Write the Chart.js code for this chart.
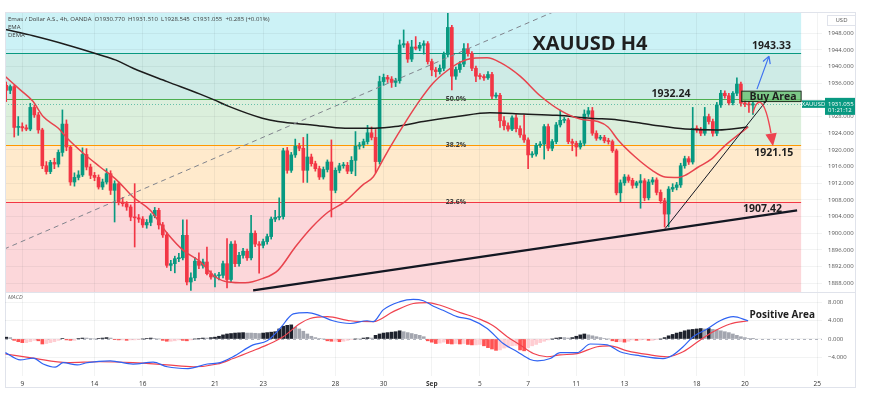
<!DOCTYPE html>
<html>
<head>
<meta charset="utf-8">
<title>XAUUSD H4</title>
<script src="https://cdn.jsdelivr.net/npm/chart.js@4.4.1/dist/chart.umd.min.js"></script>
<style>
body { margin: 0; background: #fff; }
#wrap { position: relative; width: 870px; height: 405px; overflow: hidden; font-family: 'Open Sans', sans-serif; }
#wrap canvas { position: absolute; left: 0; }
#priceChart { z-index: 1; }
#macdChart { z-index: 10; }
#frame { position: absolute; z-index: 3; left: 5px; top: 12px; width: 849px; height: 374px; border: 1px solid #e0e3eb; pointer-events: none; }
#divider { position: absolute; z-index: 3; left: 5px; top: 292px; width: 851px; height: 1px; background: #e0e3eb; }
.hdr { position: absolute; z-index: 3; left: 8px; font-size: 6px; line-height: 8px; color: #3b3b3b; white-space: pre; }
</style>
</head>
<body>
<div id="wrap">
  <canvas id="priceChart" width="870" height="293" style="top:0"></canvas>
  <canvas id="macdChart" width="870" height="112" style="top:293px"></canvas>
  <div id="frame"></div>
  <div id="divider"></div>
  <div class="hdr" style="top:15px">Emas / Dollar A.S., 4h, OANDA  O1930.770  H1931.510  L1928.545  C1931.055  +0.285 (+0.01%)</div>
  <div class="hdr" style="top:23px">EMA</div>
  <div class="hdr" style="top:31px">DEMA</div>
</div>
<script>
// x = candle number (4h candles, 6 a day), candle 0 = last ones of 8 Aug
const dayTicks  = [4, 22, 34, 52, 64, 82, 94, 106, 118, 130, 142, 154, 172, 184, 202];
const dayLabels = ['9', '14', '16', '21', '23', '28', '30', 'Sep', '5', '7', '11', '13', '18', '20', '25'];
const priceTicks = [1888, 1892, 1896, 1900, 1904, 1908, 1912, 1916, 1920, 1924, 1928, 1932, 1936, 1940, 1944, 1948];
const macdTicks = [-4, 0, 4, 8];

const opens = [
    1935.5, 1934.3, 1935.2, 1925.4, 1925.6, 1925.3, 1925.0, 1930.2, 1928.4, 1924.8,
    1916.2, 1914.8, 1917.0, 1916.6, 1919.4, 1926.2, 1920.7, 1912.3, 1913.4, 1914.0,
    1918.9, 1915.9, 1913.9, 1913.4, 1911.1, 1912.3, 1914.3, 1910.3, 1911.9, 1907.5,
    1907.1, 1906.3, 1903.9, 1903.7, 1903.4, 1902.0, 1902.6, 1904.2, 1905.5, 1902.0,
    1899.6, 1892.3, 1892.7, 1893.9, 1894.1, 1899.5, 1888.3, 1889.3, 1893.3, 1892.3,
    1893.1, 1890.3, 1889.5, 1889.8, 1889.9, 1892.7, 1888.9, 1897.4, 1892.7, 1894.7,
    1895.7, 1894.1, 1900.0, 1897.4, 1897.1, 1898.0, 1899.2, 1903.4, 1903.8, 1904.0,
    1919.8, 1915.1, 1918.8, 1920.9, 1920.4, 1915.1, 1918.3, 1916.7, 1915.5, 1913.5,
    1915.3, 1917.1, 1910.3, 1915.1, 1916.2, 1916.3, 1914.9, 1917.5, 1920.9, 1921.2,
    1922.0, 1924.1, 1923.0, 1917.2, 1936.4, 1937.4, 1937.0, 1936.2, 1936.6, 1945.2,
    1945.5, 1941.8, 1944.7, 1944.4, 1945.1, 1945.5, 1941.2, 1939.2, 1938.8, 1939.6,
    1942.9, 1949.4, 1937.7, 1939.3, 1940.6, 1944.3, 1943.1, 1939.6, 1937.7, 1937.6,
    1937.3, 1938.1, 1932.9, 1933.1, 1927.0, 1925.8, 1925.0, 1927.7, 1925.1, 1923.6,
    1922.4, 1918.8, 1919.0, 1921.1, 1921.4, 1925.6, 1920.4, 1922.0, 1926.0, 1927.1,
    1927.2, 1922.0, 1921.6, 1920.7, 1921.6, 1928.6, 1929.4, 1924.0, 1922.8, 1923.0,
    1922.2, 1922.0, 1919.8, 1909.7, 1912.1, 1913.5, 1912.7, 1911.5, 1912.1, 1912.6,
    1908.5, 1912.3, 1912.8, 1909.8, 1907.8, 1904.6, 1910.6, 1911.0, 1911.6, 1916.2,
    1917.9, 1917.1, 1925.2, 1924.8, 1924.0, 1928.0, 1926.8, 1924.0, 1930.8, 1933.6,
    1933.0, 1931.3, 1933.6, 1935.8, 1931.2, 1931.0, 1930.77
];
const highs = [
    1936.3, 1935.6, 1935.6, 1928.0, 1926.5, 1926.0, 1931.2, 1930.8, 1929.0, 1925.2,
    1917.2, 1917.5, 1918.0, 1920.0, 1929.6, 1927.2, 1921.0, 1914.5, 1915.0, 1920.5,
    1920.3, 1916.6, 1914.6, 1914.0, 1913.0, 1915.5, 1915.0, 1912.6, 1912.3, 1908.6,
    1907.6, 1906.8, 1911.9, 1904.5, 1904.0, 1903.3, 1904.7, 1906.2, 1906.0, 1902.6,
    1900.2, 1893.5, 1894.5, 1895.2, 1903.2, 1903.2, 1890.5, 1894.2, 1895.3, 1893.8,
    1896.7, 1891.0, 1890.3, 1890.6, 1893.3, 1898.7, 1898.0, 1898.2, 1895.4, 1896.4,
    1896.2, 1904.3, 1900.6, 1898.0, 1898.6, 1899.8, 1903.9, 1905.5, 1908.5, 1920.4,
    1920.6, 1919.4, 1922.6, 1921.6, 1923.0, 1923.8, 1919.0, 1917.3, 1916.1, 1915.9,
    1917.6, 1922.4, 1915.7, 1916.8, 1917.0, 1917.0, 1918.4, 1924.4, 1921.8, 1922.6,
    1925.9, 1925.5, 1924.9, 1937.7, 1938.2, 1937.9, 1937.6, 1937.2, 1946.4, 1948.8,
    1946.0, 1946.3, 1947.2, 1945.8, 1946.2, 1946.0, 1941.8, 1939.8, 1940.4, 1943.5,
    1952.9, 1949.9, 1939.9, 1941.2, 1945.5, 1945.5, 1943.6, 1940.1, 1938.3, 1938.1,
    1938.8, 1938.6, 1933.7, 1933.6, 1928.0, 1926.5, 1928.2, 1928.5, 1925.8, 1928.4,
    1922.9, 1919.6, 1921.6, 1922.0, 1926.1, 1926.2, 1922.5, 1926.6, 1929.6, 1927.8,
    1927.6, 1922.6, 1922.1, 1922.2, 1929.6, 1930.2, 1930.2, 1924.6, 1923.5, 1923.5,
    1922.8, 1922.4, 1920.2, 1912.8, 1914.1, 1914.0, 1913.2, 1912.5, 1914.1, 1913.1,
    1912.9, 1913.4, 1913.3, 1910.4, 1908.4, 1911.2, 1911.9, 1912.2, 1916.8, 1918.5,
    1918.4, 1930.2, 1925.8, 1925.4, 1930.2, 1928.6, 1927.4, 1931.4, 1934.3, 1934.2,
    1933.6, 1934.0, 1937.3, 1936.3, 1931.9, 1931.6, 1931.51
];
const lows = [
    1931.6, 1933.5, 1923.1, 1923.5, 1924.5, 1924.6, 1924.6, 1927.8, 1924.0, 1915.5,
    1914.2, 1914.3, 1915.5, 1915.9, 1918.5, 1919.8, 1911.5, 1911.3, 1912.8, 1913.6,
    1915.2, 1913.1, 1912.6, 1910.6, 1910.5, 1911.8, 1909.3, 1902.7, 1906.8, 1906.5,
    1905.5, 1903.0, 1896.7, 1902.6, 1901.4, 1901.2, 1901.8, 1903.7, 1901.0, 1899.0,
    1891.8, 1891.0, 1890.5, 1893.2, 1893.6, 1887.6, 1886.3, 1888.6, 1891.5, 1891.6,
    1890.0, 1889.0, 1887.1, 1888.8, 1889.3, 1886.9, 1888.2, 1892.0, 1892.1, 1894.0,
    1893.5, 1893.6, 1896.8, 1890.4, 1896.5, 1897.4, 1898.6, 1902.8, 1903.2, 1903.4,
    1914.4, 1914.6, 1918.2, 1919.8, 1912.2, 1912.2, 1916.1, 1914.9, 1912.9, 1913.0,
    1914.7, 1903.9, 1909.7, 1914.5, 1915.6, 1914.3, 1914.3, 1913.8, 1920.2, 1920.5,
    1921.4, 1922.4, 1914.5, 1916.6, 1935.5, 1936.2, 1935.0, 1935.2, 1936.0, 1944.6,
    1941.0, 1941.2, 1944.0, 1943.8, 1943.0, 1940.6, 1937.8, 1937.5, 1938.2, 1939.0,
    1942.3, 1934.4, 1936.9, 1938.6, 1940.0, 1942.5, 1939.0, 1936.4, 1937.0, 1936.7,
    1936.9, 1932.3, 1932.4, 1925.4, 1924.8, 1924.5, 1924.6, 1924.3, 1923.0, 1921.8,
    1915.5, 1918.2, 1918.5, 1920.6, 1917.8, 1919.8, 1919.8, 1921.5, 1925.5, 1926.5,
    1921.5, 1919.8, 1918.5, 1920.2, 1921.0, 1928.0, 1923.5, 1922.3, 1922.4, 1921.7,
    1921.4, 1919.4, 1909.2, 1907.6, 1911.5, 1912.2, 1910.8, 1910.9, 1906.0, 1907.8,
    1908.0, 1911.7, 1909.2, 1907.2, 1901.5, 1901.5, 1910.0, 1910.4, 1911.0, 1915.6,
    1916.5, 1916.6, 1924.2, 1923.4, 1923.5, 1926.2, 1923.3, 1923.4, 1930.2, 1932.4,
    1930.8, 1930.8, 1933.0, 1930.5, 1930.4, 1929.0, 1928.545
];
const closes = [
    1934.3, 1935.2, 1925.4, 1925.6, 1925.3, 1925.0, 1930.2, 1928.4, 1924.8, 1916.2,
    1914.8, 1917.0, 1916.6, 1919.4, 1926.2, 1920.7, 1912.3, 1913.4, 1914.0, 1918.9,
    1915.9, 1913.9, 1913.4, 1911.1, 1912.3, 1914.3, 1910.3, 1911.9, 1907.5, 1907.1,
    1906.3, 1903.9, 1903.7, 1903.4, 1902.0, 1902.6, 1904.2, 1905.5, 1902.0, 1899.6,
    1892.3, 1892.7, 1893.9, 1894.1, 1899.5, 1888.3, 1889.3, 1893.3, 1892.3, 1893.1,
    1890.3, 1889.5, 1889.8, 1889.9, 1892.7, 1888.9, 1897.4, 1892.7, 1894.7, 1895.7,
    1894.1, 1900.0, 1897.4, 1897.1, 1898.0, 1899.2, 1903.4, 1903.8, 1904.0, 1919.8,
    1915.1, 1918.8, 1920.9, 1920.4, 1915.1, 1918.3, 1916.7, 1915.5, 1913.5, 1915.3,
    1917.1, 1910.3, 1915.1, 1916.2, 1916.3, 1914.9, 1917.5, 1920.9, 1921.2, 1922.0,
    1924.1, 1923.0, 1917.2, 1936.4, 1937.4, 1937.0, 1936.2, 1936.6, 1945.2, 1945.5,
    1941.8, 1944.7, 1944.4, 1945.1, 1945.5, 1941.2, 1939.2, 1938.8, 1939.6, 1942.9,
    1949.4, 1937.7, 1939.3, 1940.6, 1944.3, 1943.1, 1939.6, 1937.7, 1937.6, 1937.3,
    1938.1, 1932.9, 1933.1, 1927.0, 1925.8, 1925.0, 1927.7, 1925.1, 1923.6, 1922.4,
    1918.8, 1919.0, 1921.1, 1921.4, 1925.6, 1920.4, 1922.0, 1926.0, 1927.1, 1927.2,
    1922.0, 1921.6, 1920.7, 1921.6, 1928.6, 1929.4, 1924.0, 1922.8, 1923.0, 1922.2,
    1922.0, 1919.8, 1909.7, 1912.1, 1913.5, 1912.7, 1911.5, 1912.1, 1912.6, 1908.5,
    1912.3, 1912.8, 1909.8, 1907.8, 1904.6, 1910.6, 1911.0, 1911.6, 1916.2, 1917.9,
    1917.1, 1925.2, 1924.8, 1924.0, 1928.0, 1926.8, 1924.0, 1930.8, 1933.6, 1933.0,
    1931.3, 1933.6, 1935.8, 1931.2, 1931.0, 1930.8, 1931.055
];

const macdHist = [
    0.4, 0.3, -0.3, -0.6, -0.8, -0.8, -0.6, -0.3, -0.4, -1.1,
    -1.0, -0.8, -0.6, -0.3, 0.1, -0.2, -0.3, -0.3, 0.1, 0.2,
    0.2, 0.1, 0.0, 0.1, 0.2, 0.3, 0.2, -0.1, -0.2, -0.2,
    -0.3, -0.2, -0.2, -0.1, 0.0, 0.1, 0.2, 0.1, 0.0, -0.3,
    -0.5, -0.5, -0.4, -0.2, -0.3, -0.4, -0.2, 0.0, 0.1, 0.2,
    0.2, 0.3, 0.4, 0.6, 0.9, 1.1, 1.2, 1.3, 1.35, 1.4,
    1.3, 1.3, 1.25, 1.2, 1.3, 1.4, 1.5, 1.6, 2.2, 2.8,
    3.0, 3.1, 2.6, 2.2, 1.7, 1.1, 0.6, 0.3, 0.1, 0.0,
    -0.4, -0.5, -0.5, -0.6, -0.5, -0.3, -0.1, 0.0, 0.0, 0.2,
    0.3, 0.2, 0.8, 1.1, 1.3, 1.4, 1.5, 1.6, 1.8, 1.6,
    1.4, 1.2, 1.0, 0.8, 0.5, -0.4, -0.7, -1.0, -0.9, -0.7,
    -1.0, -1.1, -1.0, -1.1, -1.0, -1.2, -1.3, -1.3, -1.2, -1.5,
    -1.9, -2.2, -2.5, -2.4, -2.0, -1.8, -1.5, -1.4, -2.4, -2.6,
    -1.9, -1.5, -1.2, -0.8, -0.5, -0.2, 0.0, 0.2, 0.3, 0.3,
    0.2, 0.3, 0.6, 0.9, 1.1, 0.9, 0.7, 0.5, 0.3, 0.1,
    0.0, -0.4, -0.6, -0.6, -0.7, -0.5, -0.2, -0.3, -0.2, -0.1,
    -0.3, -0.3, -0.1, 0.0, 0.3, 0.7, 1.0, 1.3, 1.5, 1.8,
    2.0, 2.1, 2.2, 2.3, 2.2, 2.3, 2.1, 2.0, 1.8, 1.6,
    1.4, 1.1, 0.8, 0.5, 0.3, 0.1, 0.05
];

// [candle, value]
const emaRed = [
    [-0.2, 1937.6], [3.5, 1934.4], [6.7, 1931.6], [9.2, 1928.0], [13.0, 1925.2], [15.2, 1922.8],
    [19.2, 1919.2], [23.4, 1915.9], [27.6, 1912.7], [31.6, 1908.7], [35.9, 1905.5], [40.1, 1900.0],
    [44.1, 1895.9], [48.3, 1893.2], [52.1, 1889.5], [55.3, 1888.3], [59.5, 1888.1], [63.8, 1889.1],
    [67.7, 1891.1], [72.0, 1896.7], [76.2, 1901.5], [80.2, 1905.1], [84.4, 1907.6], [88.7, 1911.5],
    [91.4, 1913.5], [93.6, 1917.2], [95.6, 1920.6], [99.8, 1927.2], [103.1, 1932.0], [106.3, 1936.0],
    [109.8, 1939.0], [113.0, 1941.0], [116.3, 1942.0], [119.8, 1942.1], [123.0, 1941.0], [128.0, 1937.7],
    [133.0, 1933.0], [138.0, 1929.5], [143.0, 1927.4], [147.4, 1926.8], [149.9, 1925.5], [152.4, 1922.4],
    [156.7, 1918.3], [160.9, 1915.1], [164.1, 1913.5], [167.4, 1913.4], [169.1, 1913.9], [172.4, 1915.9],
    [175.8, 1917.9], [179.1, 1921.1], [182.3, 1923.6], [184.8, 1925.5]
];
const emaBlack = [
    [-0.2, 1948.9], [6.7, 1947.4], [15.2, 1945.2], [23.4, 1942.8], [27.2, 1941.6], [31.6, 1939.6],
    [40.1, 1936.4], [48.3, 1933.4], [51.8, 1932.0], [55.3, 1930.5], [63.8, 1927.6], [67.7, 1926.8],
    [76.2, 1926.0], [84.4, 1925.2], [91.9, 1925.2], [96.9, 1925.6], [103.9, 1926.8], [112.3, 1928.0],
    [120.5, 1928.9], [128.8, 1928.6], [137.2, 1928.3], [145.5, 1927.6], [152.4, 1927.2], [160.9, 1926.0],
    [169.1, 1925.0], [177.3, 1924.8], [184.8, 1925.5]
];
const macdLine = [
    [-0.2, -3.0], [3.5, -4.6], [6.7, -4.2], [9.2, -5.5], [12.2, -6.2], [14.2, -5.2], [17.7, -5.7],
    [20.2, -5.2], [25.9, -4.8], [31.6, -5.5], [36.6, -5.1], [40.1, -6.1], [45.3, -6.5], [50.1, -5.5],
    [53.3, -5.2], [56.5, -3.9], [61.5, -1.3], [65.0, -0.4], [68.2, 2.3], [71.5, 5.5], [75.0, 5.8],
    [78.2, 5.1], [81.4, 4.0], [85.7, 3.4], [89.9, 4.0], [91.4, 3.8], [93.9, 6.4], [98.1, 8.2],
    [101.4, 8.7], [103.9, 8.4], [106.4, 7.2], [108.8, 6.3], [112.3, 4.9], [115.6, 4.3], [119.8, 2.3],
    [123.8, -1.0], [127.3, -2.8], [130.5, -4.5], [132.3, -4.8], [135.5, -4.3], [138.0, -3.0], [142.2, -3.0],
    [145.5, -1.1], [149.7, -1.3], [152.9, -2.8], [157.9, -3.7], [163.6, -4.3], [166.1, -3.5], [168.6, -1.7],
    [171.1, 0.5], [174.6, 2.2], [177.8, 4.0], [181.1, 4.9], [184.8, 4.0]
];
const signalLine = [
    [-0.2, -3.3], [6.7, -4.2], [15.2, -5.2], [23.4, -5.0], [31.6, -5.2], [40.1, -5.7], [46.6, -6.1],
    [52.6, -5.5], [56.5, -4.3], [60.8, -2.8], [65.0, -1.3], [69.0, 0.5], [73.2, 3.4], [75.7, 4.5],
    [80.0, 4.9], [85.7, 4.0], [91.4, 3.8], [96.4, 6.0], [101.4, 7.8], [104.9, 8.0], [108.1, 7.4],
    [113.1, 5.8], [118.1, 4.3], [121.3, 2.9], [124.8, 0.5], [128.0, -1.3], [131.3, -3.2], [134.7, -3.9],
    [138.0, -3.5], [142.2, -3.2], [147.2, -1.7], [150.4, -1.5], [154.7, -2.6], [159.7, -3.4], [164.6, -3.9],
    [168.6, -2.8], [172.9, -0.2], [176.1, 1.6], [180.3, 3.3], [184.8, 4.0]
];

const fibLevels = [1907.42, 1921.15, 1932.24, 1943.33];
const fibNames  = ['23.6%', '38.2%', '50.0%', ''];
const fibEndBar = 198;
const lastPrice = 1931.055;
const trendLong = [[61.5, 1886.3], [197, 1905.5]];
const trendShort = [[164.1, 1901.1], [189.5, 1932.0]];
const fibDiagonal = [[-0.5, 1896.2], [136, 1953.0]];


const upColor = '#089981';
const downColor = '#f23645';
const gridColor = 'rgba(42, 46, 57, 0.06)';
const txtFont = '"Open Sans", sans-serif';

Chart.defaults.font.family = txtFont;
Chart.defaults.animation = false;

function toPoints(list) {
    return list.map(p => ({x: p[0], y: p[1]}));
}

function macdFmt(v) {
    return (v < 0 ? '\u2212' : '') + Math.abs(v).toFixed(3);
}

let candleColors = opens.map((o, i) => closes[i] >= o ? upColor : downColor);
let wickData = opens.map((o, i) => ({x: i, y: [lows[i], highs[i]]}));
let bodyData = opens.map((o, i) => ({x: i, y: [o, closes[i]]}));

// tradingview style histogram colours
let histColors = macdHist.map((v, i) => {
    let prev = i > 0 ? macdHist[i - 1] : 0;
    if (v >= 0) return v > prev ? '#1e222d' : '#a3a6af';
    return v < prev ? '#ff5252' : '#ffcdd2';
});

function xScale(showLabels) {
    return {
        type: 'linear',
        min: -0.3,
        max: 203.2,
        offset: false,
        afterBuildTicks: s => { s.ticks = dayTicks.map(v => ({value: v})); },
        afterFit: s => { s.height = showLabels ? 29 : 0; },
        grid: {color: gridColor, drawTicks: false, offset: false},
        border: {display: false},
        ticks: {
            display: showLabels,
            autoSkip: false,
            maxRotation: 0,
            padding: 4,
            color: '#333',
            font: c => ({size: 6.5, weight: c.tick && c.tick.value === 106 ? 'bold' : 'normal'}),
            callback: v => dayLabels[dayTicks.indexOf(v)]
        }
    };
}

// right hand value axis, fixed width, no extra top/bottom room
function valueScale(min, max, tickList, fmt, showLabels) {
    return {
        position: 'right',
        min: min,
        max: max,
        afterBuildTicks: s => { s.ticks = tickList.map(v => ({value: v})); },
        afterFit: s => { s.width = 48; s.paddingTop = 0; s.paddingBottom = 0; },
        grid: {color: gridColor, drawTicks: false},
        border: {display: false},
        ticks: {display: showLabels, autoSkip: false, padding: 6, color: '#555', font: {size: 6}, callback: fmt}
    };
}

// annotation drawings, in candle / price units
const notes = [
    {text: 'XAUUSD H4', bar: 145.4, price: 1945.3, size: 20},
    {text: '1943.33', bar: 190.6, price: 1944.9, size: 10.5},
    {text: '1932.24', bar: 165.6, price: 1933.5, size: 10.5},
    {text: 'Buy Area', bar: 191.0, price: 1932.8, size: 10.5},
    {text: '1921.15', bar: 191.2, price: 1919.3, size: 10.5},
    {text: '1907.42', bar: 188.4, price: 1905.8, size: 10.5}
];
const buyBox = {from: 183.2, to: 198, top: 1934.1, bottom: 1931.6};
const blueArrow = [[187.0, 1934.6], [190.0, 1942.5]];
const redCurve = [[186.0, 1928.8], [187.0, 1932.7], [188.8, 1933.2], [190.5, 1924.0], [191.0, 1920.9]];

function pt(chart, p) {
    return {x: chart.scales.x.getPixelForValue(p[0]), y: chart.scales.y.getPixelForValue(p[1])};
}

const fibPlugin = {
    id: 'fib',
    beforeDraw(chart) {
        const {ctx, chartArea: a, scales: {x, y}} = chart;
        const zoneColors = ['rgba(242,54,69,0.2)', 'rgba(255,152,0,0.2)', 'rgba(76,175,80,0.2)',
            'rgba(8,153,129,0.2)', 'rgba(0,188,212,0.2)'];
        const right = x.getPixelForValue(fibEndBar);
        const edges = [y.min].concat(fibLevels, [y.max]);
        ctx.save();
        for (let i = 0; i < zoneColors.length; i++) {
            let top = y.getPixelForValue(edges[i + 1]);
            let bottom = y.getPixelForValue(edges[i]);
            ctx.fillStyle = zoneColors[i];
            ctx.fillRect(a.left, top, right - a.left, bottom - top);
        }
        ctx.restore();
    },
    beforeDatasetsDraw(chart) {
        const {ctx, chartArea: a, scales: {x, y}} = chart;
        const lineColors = ['#f23645', '#ff9800', '#4caf50', '#089981'];
        const right = x.getPixelForValue(fibEndBar);
        ctx.save();
        fibLevels.forEach((lv, i) => {
            let yy = Math.round(y.getPixelForValue(lv)) + 0.5;
            ctx.strokeStyle = lineColors[i];
            ctx.lineWidth = 1;
            ctx.beginPath();
            ctx.moveTo(a.left, yy);
            ctx.lineTo(right, yy);
            ctx.stroke();
            if (fibNames[i]) {
                ctx.fillStyle = '#3a3a3a';
                ctx.font = 'bold 7px ' + txtFont;
                ctx.textAlign = 'center';
                ctx.textBaseline = 'middle';
                ctx.fillText(fibNames[i], x.getPixelForValue(112), yy - 0.5);
            }
        });
        ctx.restore();
    }
};

const overlayPlugin = {
    id: 'overlay',
    afterDatasetsDraw(chart) {
        const {ctx, chartArea: a, scales: {y}} = chart;
        ctx.save();

        // last price line
        let py = Math.round(y.getPixelForValue(lastPrice)) + 0.5;
        ctx.strokeStyle = 'rgba(8,153,129,0.55)';
        ctx.setLineDash([1, 2]);
        ctx.lineWidth = 1;
        ctx.beginPath();
        ctx.moveTo(a.left, py);
        ctx.lineTo(a.right, py);
        ctx.stroke();
        ctx.setLineDash([]);

        // buy area box
        let b1 = pt(chart, [buyBox.from, buyBox.top]);
        let b2 = pt(chart, [buyBox.to, buyBox.bottom]);
        ctx.fillStyle = 'rgba(96,190,104,0.75)';
        ctx.fillRect(b1.x, b1.y, b2.x - b1.x, b2.y - b1.y);
        ctx.strokeStyle = '#1d2b1d';
        ctx.strokeRect(b1.x, b1.y, b2.x - b1.x, b2.y - b1.y);

        // blue arrow
        let s = pt(chart, blueArrow[0]);
        let e = pt(chart, blueArrow[1]);
        ctx.strokeStyle = '#3f72f0';
        ctx.lineWidth = 1.2;
        ctx.beginPath();
        ctx.moveTo(s.x, s.y);
        ctx.lineTo(e.x, e.y);
        let ang = Math.atan2(e.y - s.y, e.x - s.x);
        for (let d of [-0.5, 0.5]) {
            ctx.moveTo(e.x, e.y);
            ctx.lineTo(e.x - 8 * Math.cos(ang + d), e.y - 8 * Math.sin(ang + d));
        }
        ctx.stroke();

        // red curved arrow
        let c = redCurve.map(p => pt(chart, p));
        ctx.strokeStyle = '#ee4450';
        ctx.fillStyle = '#ee4450';
        ctx.lineWidth = 1.4;
        ctx.beginPath();
        ctx.moveTo(c[0].x, c[0].y);
        ctx.bezierCurveTo(c[1].x, c[1].y, c[2].x, c[2].y, c[3].x, c[3].y);
        ctx.stroke();
        let ha = Math.atan2(c[4].y - c[3].y, c[4].x - c[3].x);
        ctx.beginPath();
        ctx.moveTo(c[4].x, c[4].y);
        ctx.lineTo(c[4].x - 14 * Math.cos(ha - 0.42), c[4].y - 14 * Math.sin(ha - 0.42));
        ctx.lineTo(c[4].x - 14 * Math.cos(ha + 0.42), c[4].y - 14 * Math.sin(ha + 0.42));
        ctx.closePath();
        ctx.fill();

        // texts
        ctx.textAlign = 'center';
        ctx.textBaseline = 'middle';
        ctx.fillStyle = '#1f1f1f';
        notes.forEach(n => {
            let p = pt(chart, [n.bar, n.price]);
            ctx.font = 'bold ' + n.size + 'px ' + txtFont;
            ctx.fillText(n.text, p.x, p.y);
        });
        ctx.restore();
    },
    afterDraw(chart) {
        const {ctx, chartArea: a, scales: {y}} = chart;
        let py = y.getPixelForValue(lastPrice);
        ctx.save();
        ctx.font = '6px ' + txtFont;
        ctx.textBaseline = 'middle';
        // currency box
        ctx.strokeStyle = '#e0e3eb';
        ctx.strokeRect(a.right + 5.5, 15.5, 28, 10);
        ctx.fillStyle = '#555';
        ctx.textAlign = 'center';
        ctx.fillText('USD', a.right + 19.5, 20.5);
        // last price labels
        ctx.fillStyle = upColor;
        ctx.fillRect(a.right - 20, py - 3.5, 23, 7.5);
        ctx.fillRect(a.right + 3, py - 6, 31, 17);
        ctx.fillStyle = '#fff';
        ctx.fillText('XAUUSD', a.right - 8.5, py + 0.3);
        ctx.textAlign = 'left';
        ctx.fillText('1931.055', a.right + 6, py + 0.5);
        ctx.fillText('01:21:12', a.right + 6, py + 6.8);
        ctx.restore();
    }
};

const macdPlugin = {
    id: 'macdExtras',
    beforeDatasetsDraw(chart) {
        const {ctx, chartArea: a, scales: {y}} = chart;
        let zy = Math.round(y.getPixelForValue(0)) + 0.5;
        ctx.save();
        ctx.strokeStyle = '#b2b5be';
        ctx.setLineDash([3, 3]);
        ctx.beginPath();
        ctx.moveTo(a.left, zy);
        ctx.lineTo(a.right, zy);
        ctx.stroke();
        ctx.restore();
    },
    afterDatasetsDraw(chart) {
        const {ctx, chartArea: a, scales: {x, y}} = chart;
        ctx.save();
        ctx.fillStyle = '#666';
        ctx.font = 'italic 5.5px ' + txtFont;
        ctx.textAlign = 'left';
        ctx.textBaseline = 'middle';
        ctx.fillText('MACD', a.left + 3, a.top + 4.5);
        ctx.fillStyle = '#1f1f1f';
        ctx.font = 'bold 10px ' + txtFont;
        ctx.textAlign = 'center';
        ctx.fillText('Positive Area', x.getPixelForValue(193.3), y.getPixelForValue(5.3));
        ctx.restore();
    },
    // value labels of the macd axis, placed on the axis ticks
    afterDraw(chart) {
        const {ctx, chartArea: a, scales: {y}} = chart;
        ctx.save();
        ctx.fillStyle = '#555';
        ctx.font = '6px ' + txtFont;
        ctx.textAlign = 'left';
        ctx.textBaseline = 'middle';
        macdTicks.forEach(v => ctx.fillText(macdFmt(v), a.right + 6, y.getPixelForValue(v)));
        ctx.restore();
    }
};

let priceConfig = {
    type: 'bar',
    data: {
        datasets: [
            {type: 'line', data: toPoints(trendLong), borderColor: '#131722', borderWidth: 2.4, pointRadius: 0, order: 0},
            {type: 'line', data: toPoints(trendShort), borderColor: '#131722', borderWidth: 1, pointRadius: 0, order: 0},
            {type: 'line', data: toPoints(fibDiagonal), borderColor: '#80838c', borderWidth: 1, borderDash: [5, 4], pointRadius: 0, order: 0},
            {type: 'line', label: 'EMA', data: toPoints(emaRed), borderColor: '#e8434d', borderWidth: 1.5,
                pointRadius: 0, cubicInterpolationMode: 'monotone', order: 1},
            {type: 'line', label: 'DEMA', data: toPoints(emaBlack), borderColor: '#1c1c1c', borderWidth: 1.5,
                pointRadius: 0, cubicInterpolationMode: 'monotone', order: 1},
            {type: 'bar', data: bodyData, backgroundColor: candleColors, barThickness: 3, minBarLength: 1, grouped: false, order: 2},
            {type: 'bar', data: wickData, backgroundColor: candleColors, barThickness: 1, grouped: false, order: 3}
        ]
    },
    options: {
        responsive: false,
        events: [],
        layout: {padding: {left: 5, top: 12, right: 0, bottom: 1}},
        plugins: {legend: {display: false}, tooltip: {enabled: false}},
        scales: {
            x: xScale(false),
            y: valueScale(1885.9, 1953.1, priceTicks, v => v.toFixed(3), true)
        }
    },
    plugins: [fibPlugin, overlayPlugin]
};

let macdConfig = {
    type: 'bar',
    data: {
        datasets: [
            {type: 'line', data: toPoints(macdLine), borderColor: '#2f63f2', borderWidth: 1.2,
                pointRadius: 0, cubicInterpolationMode: 'monotone', order: 0},
            {type: 'line', data: toPoints(signalLine), borderColor: '#f0434f', borderWidth: 1.2,
                pointRadius: 0, cubicInterpolationMode: 'monotone', order: 0},
            {type: 'bar', data: macdHist.map((v, i) => ({x: i, y: v})), backgroundColor: histColors,
                barThickness: 3, grouped: false, order: 1}
        ]
    },
    options: {
        responsive: false,
        events: [],
        layout: {padding: {left: 5, top: 0, right: 0, bottom: 0}},
        plugins: {legend: {display: false}, tooltip: {enabled: false}},
        scales: {
            x: xScale(true),
            y: valueScale(-8.13, 10.1, macdTicks, macdFmt, false)
        }
    },
    plugins: [macdPlugin]
};

new Chart(document.getElementById('priceChart').getContext('2d'), priceConfig);
new Chart(document.getElementById('macdChart').getContext('2d'), macdConfig);
</script>
</body>
</html>
